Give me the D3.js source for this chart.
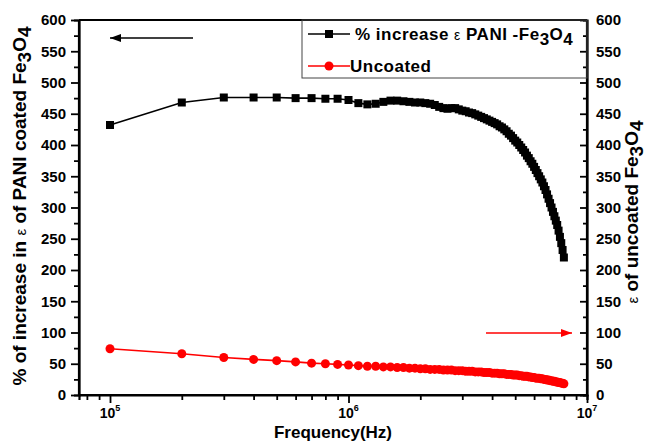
<!DOCTYPE html>
<html><head><meta charset="utf-8">
<script src="https://cdn.jsdelivr.net/npm/d3@7"></script>
<style>
body{margin:0;background:#fff;}
text{font-family:"Liberation Sans",Arial,sans-serif;font-weight:bold;}
</style></head>
<body><svg id="c" width="646" height="444"></svg>
<script>
// frequency in units of 1e5 Hz
const freqSteps = [1,2,3,4,5,6,7,8,9,10,11,12,13,14,15,16,17,18,19,20,21,22,23,24,25,26,27,28,29,30,31,32,33,34,35,36,37,38,39,40,41,42,43,44,45,46,47,48,49,50,51,52,53,54,55,56,57,58,59,60,61,62,63,64,65,66,67,68,69,70,71,72,73,74,75,76,77,78,79,80];
const pctIncrease = [432,468,476,476,476,475,475,474,474,472,467,465,466,469,471,471,470,469,468,468,467,466,464,461,459,458,459,459,457,455,454,452,451,449,447,445,443,441,439,437,435,433,430,428,425,422,418,415,411,407,404,400,396,392,388,383,379,374,370,365,360,355,350,345,340,334,328,321,314,307,300,293,286,279,272,263,253,243,232,220];
const uncoated = [74,66,60,57,55,53,51,50,49,48,47,46,46,45,45,44,44,43,43,42,42,41,41,41,40,40,40,39,39,39,38,38,38,37,37,37,36,36,36,35,35,35,34,34,34,33,33,33,32,32,32,31,31,30,30,30,29,29,28,28,27,27,27,26,26,25,25,24,24,23,23,22,22,21,21,20,20,19,19,18];
const yTicks = [0,50,100,150,200,250,300,350,400,450,500,550,600];
const yMinor = [25,75,125,175,225,275,325,375,425,475,525,575];
const xMajor = [1e5,1e6,1e7];
const xMinor = [8e4,9e4,2e5,3e5,4e5,5e5,6e5,7e5,8e5,9e5,2e6,3e6,4e6,5e6,6e6,7e6,8e6,9e6];
const xExp = ["5","6","7"];

const svg = d3.select("#c");
const L=79, R=587, T=20, B=395;
const x = d3.scaleLog().domain([Math.pow(10,4.87),1e7]).range([L,R]);
const y = d3.scaleLinear().domain([0,600]).range([B,T]);
const y2 = d3.scaleLinear().domain([0,600]).range([B,T]);
const blackData = freqSteps.map((f,i)=>({f:f*1e5,v:pctIncrease[i]}));
const redData = freqSteps.map((f,i)=>({f:f*1e5,v:uncoated[i]}));

// frame top
svg.append("line").attr("x1",L).attr("x2",R).attr("y1",T).attr("y2",T).attr("stroke","#000").attr("stroke-width",2);

// left axis
const gL = svg.append("g").attr("transform",`translate(${L},0)`);
gL.call(d3.axisLeft(y).tickValues(yTicks).tickSize(8).tickPadding(5));
gL.append("g").call(d3.axisLeft(y).tickValues(yMinor).tickSize(5).tickFormat(""));
// right axis
const gR = svg.append("g").attr("transform",`translate(${R},0)`);
gR.call(d3.axisRight(y2).tickValues(yTicks).tickSize(-7).tickPadding(9));
gR.append("g").call(d3.axisRight(y2).tickValues(yMinor).tickSize(-4).tickFormat(""));
// bottom axis
const gB = svg.append("g").attr("transform",`translate(0,${B})`);
gB.call(d3.axisBottom(x).tickValues(xMajor).tickSize(8).tickFormat(""));
gB.append("g").call(d3.axisBottom(x).tickValues(xMinor).tickSize(5).tickFormat(""));
[gL,gR,gB].forEach(g=>{
  g.selectAll("path.domain").attr("stroke-width",2.2);
  g.selectAll(".tick line").attr("stroke-width",1.8);
  g.selectAll(".tick text").style("font-size","15px").style("font-weight","bold");
});
gB.select("path.domain").attr("d",`M${L},0H${R}`);
gL.select("path.domain").attr("d",`M0,${B}V${T}`);
gR.select("path.domain").attr("d",`M0,${B}V${T}`);
// x tick labels as 10^n
xMajor.forEach((v,i)=>{
  const t = svg.append("text").attr("x",x(v)).attr("y",418).attr("text-anchor","middle").style("font-size","14px");
  t.append("tspan").text("10");
  t.append("tspan").attr("dy",-7).style("font-size","9px").text(xExp[i]);
});

// series
const line = d3.line().x(d=>x(d.f));
svg.append("path").datum(blackData).attr("d",line.y(d=>y(d.v))).attr("fill","none").attr("stroke","#000").attr("stroke-width",1.6);
svg.append("g").selectAll("rect").data(blackData).join("rect")
  .attr("x",d=>x(d.f)-4).attr("y",d=>y(d.v)-4).attr("width",8).attr("height",8).attr("fill","#000");
svg.append("path").datum(redData).attr("d",d3.line().x(d=>x(d.f)).y(d=>y2(d.v))).attr("fill","none").attr("stroke","#ff0000").attr("stroke-width",1.6);
svg.append("g").selectAll("circle").data(redData).join("circle")
  .attr("cx",d=>x(d.f)).attr("cy",d=>y2(d.v)).attr("r",4.5).attr("fill","#ff0000");

// arrows
function arrow(x1,x2,yy,col){
  svg.append("line").attr("x1",x1).attr("x2",x2).attr("y1",yy).attr("y2",yy).attr("stroke",col).attr("stroke-width",1.5);
  const dir = x2>x1?1:-1;
  svg.append("path").attr("d",`M${x2},${yy}L${x2-dir*11},${yy-4}L${x2-dir*11},${yy+4}Z`).attr("fill",col);
}
arrow(193,110,38,"#000");
arrow(486,572,333,"#ff0000");

// legend
svg.append("rect").attr("x",302).attr("y",20).attr("width",285).attr("height",58).attr("fill","none").attr("stroke","#444").attr("stroke-width",1);
svg.append("line").attr("x1",308).attr("x2",350).attr("y1",34).attr("y2",34).attr("stroke","#000").attr("stroke-width",1.6);
svg.append("rect").attr("x",325).attr("y",30).attr("width",8).attr("height",8).attr("fill","#000");
svg.append("line").attr("x1",308).attr("x2",350).attr("y1",66).attr("y2",66).attr("stroke","#ff0000").attr("stroke-width",1.6);
svg.append("circle").attr("cx",329).attr("cy",66).attr("r",4.5).attr("fill","#ff0000");
const lt1 = svg.append("text").attr("x",355).attr("y",40).style("font-size","17px").style("letter-spacing","0.5px");
lt1.append("tspan").text("% increase ");
lt1.append("tspan").style("font-size","14px").style("font-weight","normal").text("ε");
lt1.append("tspan").text(" PANI -Fe");
lt1.append("tspan").attr("dy",5).text("3");
lt1.append("tspan").attr("dy",-5).text("O");
lt1.append("tspan").attr("dy",5).text("4");
svg.append("text").attr("x",350).attr("y",72).style("font-size","17px").style("letter-spacing","0.5px").text("Uncoated");

// axis titles
svg.append("text").attr("x",333).attr("y",438).attr("text-anchor","middle").style("font-size","17px").text("Frequency(Hz)");
const lt = svg.append("text").attr("transform","translate(26,206) rotate(-90)").attr("text-anchor","middle").style("font-size","19px");
lt.append("tspan").text("% of increase in ");
lt.append("tspan").style("font-size","15px").style("font-weight","normal").text("ε");
lt.append("tspan").text(" of PANI coated Fe");
lt.append("tspan").attr("dy",5).text("3");
lt.append("tspan").attr("dy",-5).text("O");
lt.append("tspan").attr("dy",5).text("4");
const rt = svg.append("text").attr("transform","translate(638,212) rotate(-90)").attr("text-anchor","middle").style("font-size","19px");
rt.append("tspan").style("font-size","15px").style("font-weight","normal").text("ε");
rt.append("tspan").text(" of uncoated Fe");
rt.append("tspan").attr("dy",5).text("3");
rt.append("tspan").attr("dy",-5).text("O");
rt.append("tspan").attr("dy",5).text("4");
</script></body></html>
